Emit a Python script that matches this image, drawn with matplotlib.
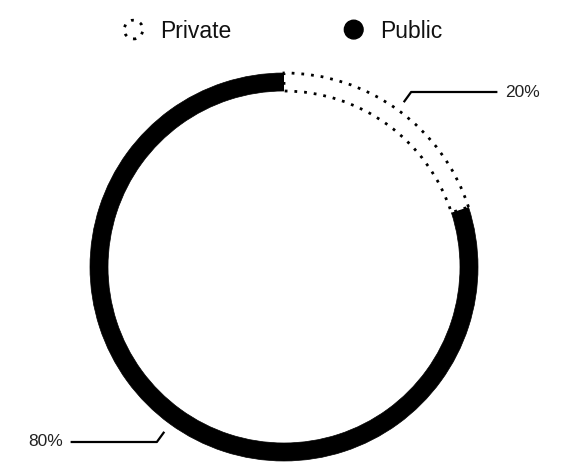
import numpy as np
import matplotlib
matplotlib.use("Agg")
import matplotlib.pyplot as plt
from matplotlib.patches import Circle
from matplotlib.legend_handler import HandlerPatch

plt.rcParams['font.family'] = ['Liberation Sans', 'DejaVu Sans']

categories = ["Private", "Public"]
values = [20, 80]
labels = ["20%", "80%"]

W, H = 573, 472
fig = plt.figure(figsize=(W / 100, H / 100), dpi=100)
cx, cy, R = 284, 267, 194
ax = fig.add_axes([(cx - R) / W, (H - cy - R) / H, 2 * R / W, 2 * R / H])

dotted = (0, (1, 2.5))
wedges, _ = ax.pie(values, startangle=90, counterclock=False, radius=1.0,
                   wedgeprops=dict(width=18 / 194))
wedges[0].set_facecolor("white")
wedges[0].set_edgecolor("black")
wedges[0].set_linestyle(dotted)
wedges[0].set_linewidth(2.0)
wedges[1].set_facecolor("black")
wedges[1].set_edgecolor("black")
wedges[1].set_linewidth(0.5)
wedges[0].set_zorder(3)

ax.set_xlim(-1, 1)
ax.set_ylim(-1, 1)
ax.set_aspect("auto")
ax.axis("off")

for w, lab in zip(wedges, labels):
    ang = np.deg2rad((w.theta1 + w.theta2) / 2)
    c, s = np.cos(ang), np.sin(ang)
    x0, y0 = 1.05 * c, 1.05 * s
    x1, y1 = 1.115 * c, 1.115 * s
    side = np.sign(c)
    x2 = side * 1.10
    ax.plot([x0, x1, x2], [y0, y1, y1], color="black", lw=1.6, clip_on=False,
            solid_capstyle="butt")
    ax.text(x2 + side * 0.04, y1, lab, ha="left" if side > 0 else "right",
            va="center", fontsize=12.5, color="#222222")


def make_circle(legend, orig_handle, xdescent, ydescent, width, height, fontsize):
    r = min(width, height) / 2
    return Circle((width / 2 - xdescent, height / 2 - ydescent), radius=r)


h_priv = Circle((0, 0), 1, facecolor="white", edgecolor="black",
                linestyle=dotted, linewidth=2.0)
h_pub = Circle((0, 0), 1, facecolor="black", edgecolor="black")
fig.legend([h_priv, h_pub], categories, loc="center", ncol=2,
           bbox_to_anchor=(283 / W, 1 - 31 / H), frameon=False, fontsize=16.5,
           handlelength=0.88, handleheight=0.88, handletextpad=0.72,
           columnspacing=4.9, labelcolor="#111111",
           handler_map={Circle: HandlerPatch(patch_func=make_circle)})

fig.savefig("out.png", dpi=100, facecolor="white")
